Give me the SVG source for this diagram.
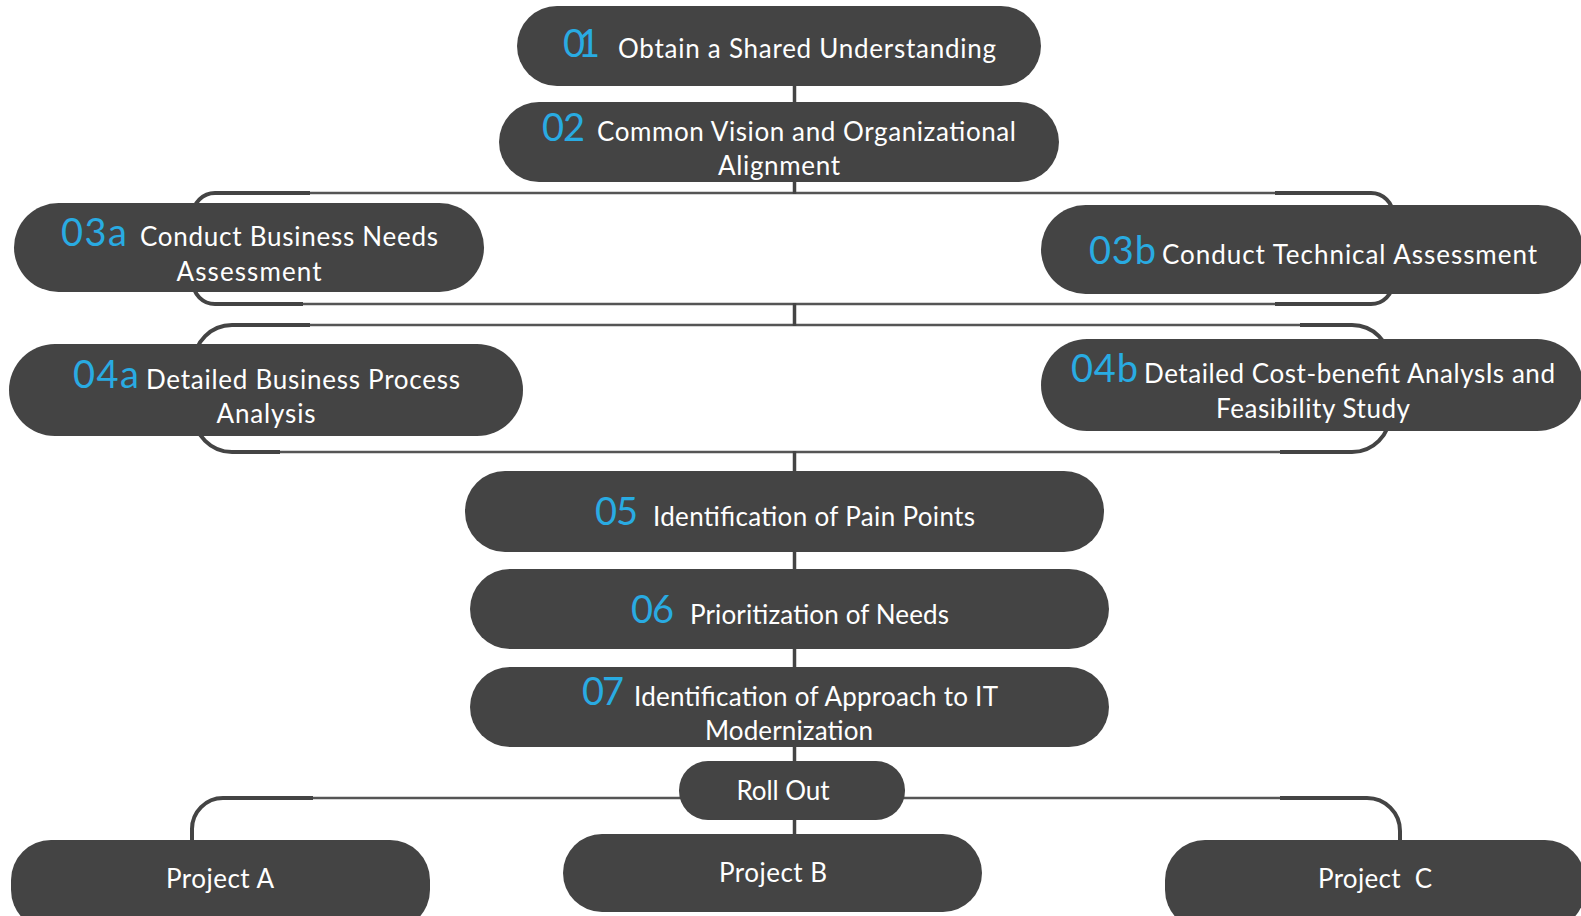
<svg xmlns="http://www.w3.org/2000/svg" width="1581" height="916" viewBox="0 0 1581 916">
<style>
.node{fill:#444444}
.num{font-family:Lato,"Noto Sans",sans-serif;font-weight:400;fill:#29abe2;font-size:38px}
.lbl{font-family:Lato,"Noto Sans",sans-serif;font-weight:400;fill:#ffffff;font-size:26px}
.mid{text-anchor:middle}
.thick{fill:none;stroke:#444444;stroke-width:4}
.thin{fill:none;stroke:#555555;stroke-width:2.6}
.vline{fill:none;stroke:#444444;stroke-width:3.5}
</style>
<rect width="1581" height="916" fill="#ffffff"/>
<g id="connectors">
<path class="thin" d="M310 193H1275M303 304H1275M310 325H1300M280 452H1280M313 798H1280"/>
<path class="thick" d="M310 193H215A22 22 0 0 0 193 215V282A22 22 0 0 0 215 304H303"/>
<path class="thick" d="M1275 193H1371A22 22 0 0 1 1393 215V282A22 22 0 0 1 1371 304H1275"/>
<path class="thick" d="M310 325H232A38 38 0 0 0 194 363V414A38 38 0 0 0 232 452H280"/>
<path class="thick" d="M1300 325H1352A38 38 0 0 1 1390 363V414A38 38 0 0 1 1352 452H1280"/>
<path class="thick" d="M313 798H223A31 31 0 0 0 192 829V842"/>
<path class="thick" d="M1280 798H1367A33 33 0 0 1 1400 831V842"/>
<path class="vline" d="M794.5 84V104M794.5 180V194M794.5 303V326M794.5 451V473M794.5 550V571M794.5 647V669M794.5 745V763M794.5 818V836"/>
</g>
<g id="n01">
<rect class="node" x="517" y="6" width="524" height="80" rx="40"/>
<text class="num" x="563" y="57" textLength="37" font-size="35">01</text>
<text class="lbl" x="618" y="58" textLength="378">Obtain a Shared Understanding</text>
</g>
<g id="n02">
<rect class="node" x="499" y="102" width="560" height="80" rx="40"/>
<text class="num" x="542" y="141" textLength="43">02</text>
<text class="lbl" x="597" y="141" textLength="419">Common Vision and Organizational</text>
<text class="lbl mid" x="779" y="175" textLength="122">Alignment</text>
</g>
<g id="n03a">
<rect class="node" x="14" y="203" width="470" height="89" rx="44.5"/>
<text class="num" x="61" y="246" textLength="66">03a</text>
<text class="lbl" x="140" y="246" textLength="298">Conduct Business Needs</text>
<text class="lbl mid" x="249" y="281" textLength="145">Assessment</text>
</g>
<g id="n03b">
<rect class="node" x="1041" y="205" width="542" height="89" rx="44.5"/>
<text class="num" x="1089" y="264" textLength="67">03b</text>
<text class="lbl" x="1162" y="264" textLength="375">Conduct Technical Assessment</text>
</g>
<g id="n04a">
<rect class="node" x="9" y="344" width="514" height="92" rx="46"/>
<text class="num" x="73" y="388" textLength="66">04a</text>
<text class="lbl" x="146" y="389" textLength="314">Detailed Business Process</text>
<text class="lbl mid" x="266" y="423" textLength="99">Analysis</text>
</g>
<g id="n04b">
<rect class="node" x="1041" y="339" width="542" height="92" rx="46"/>
<text class="num" x="1071" y="382" textLength="67">04b</text>
<text class="lbl" x="1144" y="383" textLength="411">Detailed Cost-benefit AnalysIs and</text>
<text class="lbl mid" x="1313" y="418" textLength="194">Feasibility Study</text>
</g>
<g id="n05">
<rect class="node" x="465" y="471" width="639" height="81" rx="40"/>
<text class="num" x="595" y="525" textLength="43">05</text>
<text class="lbl" x="653" y="526" textLength="322">Identification of Pain Points</text>
</g>
<g id="n06">
<rect class="node" x="470" y="569" width="639" height="80" rx="40"/>
<text class="num" x="631" y="623" textLength="43">06</text>
<text class="lbl" x="690" y="624" textLength="259">Prioritization of Needs</text>
</g>
<g id="n07">
<rect class="node" x="470" y="667" width="639" height="80" rx="40"/>
<text class="num" x="582" y="705" textLength="42">07</text>
<text class="lbl" x="634" y="706" textLength="364">Identification of Approach to IT</text>
<text class="lbl mid" x="789" y="740" textLength="168">Modernization</text>
</g>
<g id="rollout">
<rect class="node" x="679" y="761" width="226" height="59" rx="29"/>
<text class="lbl mid" x="783" y="800" textLength="93">Roll Out</text>
</g>
<g id="projA">
<rect class="node" x="11" y="840" width="419" height="90" rx="40"/>
<text class="lbl mid" x="220" y="888" textLength="108">Project A</text>
</g>
<g id="projB">
<rect class="node" x="563" y="834" width="419" height="78" rx="39"/>
<text class="lbl mid" x="773" y="882" textLength="108">Project B</text>
</g>
<g id="projC">
<rect class="node" x="1165" y="840" width="420" height="90" rx="40"/>
<text class="lbl mid" x="1375" y="888" textLength="114" xml:space="preserve">Project  C</text>
</g>
</svg>
